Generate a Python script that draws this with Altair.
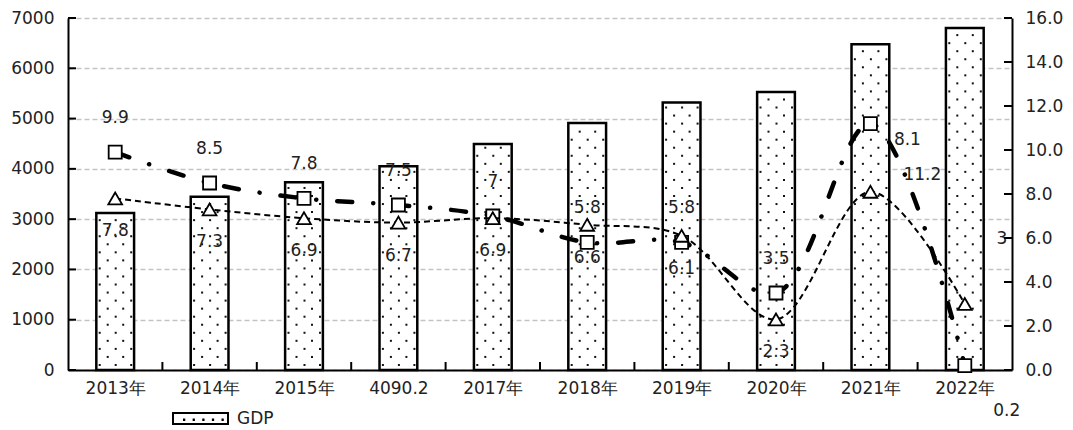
import altair as alt
import pandas as pd

# ---------------- data ----------------
categories = ["2013年", "2014年", "2015年", "4090.2", "2017年",
              "2018年", "2019年", "2020年", "2021年", "2022年"]
gdp = [3120, 3445, 3735, 4050, 4495, 4910, 5320, 5530, 6480, 6800]
square_series = [9.9, 8.5, 7.8, 7.5, 7.0, 5.8, 5.8, 3.5, 11.2, 0.2]
triangle_series = [7.8, 7.3, 6.9, 6.7, 6.9, 6.6, 6.1, 2.3, 8.1, 3.0]
left_ticks = [0, 1000, 2000, 3000, 4000, 5000, 6000, 7000]
right_ticks = [0, 2, 4, 6, 8, 10, 12, 14, 16]
legend_name = "GDP"


def fmt(v):
    return f"{v:g}"


n = len(categories)
df = pd.DataFrame({
    "year": categories,
    "pos": list(range(n)),
    "gdp": gdp,
    "sq": square_series,
    "tri": triangle_series,
    "sq_label": [fmt(v) for v in square_series],
    "tri_label": [fmt(v) for v in triangle_series],
})

# ---------------- styles ----------------
W, H = 944, 352
STEP = W / n            # pixels per category
HALF_BAR = 0.2          # half bar width, in category units
FONT = "DejaVu Sans"
FS = 17
TXT = "#222222"

cat_array = "[" + ",".join(f"'{c}'" for c in categories) + "]"
x_scale = alt.Scale(domain=[0, n], nice=False, zero=False, padding=0)
x_axis = alt.Axis(title=None, values=[i + 0.5 for i in range(n)],
                  labelExpr=f"{cat_array}[floor(datum.value)]",
                  labelAngle=0, ticks=False, labelPadding=10,
                  domainColor="black", domainWidth=2, grid=False,
                  labelFont=FONT, labelFontSize=FS, labelColor=TXT, labelFlush=False)


def X(field="xc:Q"):
    return alt.X(field, scale=x_scale, axis=x_axis)


yl_scale = alt.Scale(domain=[0, 7000], nice=False, zero=True, padding=0)
yl_axis = alt.Axis(title=None, values=left_ticks, format="d", ticks=False, labelPadding=14,
                   grid=True, gridDash=[5, 3], gridColor="#c4c4c4", gridWidth=1.3,
                   domainColor="black", domainWidth=2,
                   labelFont=FONT, labelFontSize=FS, labelColor=TXT)

yr_scale = alt.Scale(domain=[0, 16], nice=False, zero=True, padding=0)
yr_axis = alt.Axis(title=None, orient="right", values=right_ticks, format=".1f",
                   ticks=False, labelPadding=13, grid=False,
                   domainColor="black", domainWidth=2,
                   labelFont=FONT, labelFontSize=FS, labelColor=TXT)


def YL(field):
    return alt.Y(field, scale=yl_scale, axis=yl_axis)


def YR(field):
    return alt.Y(field, scale=yr_scale, axis=yr_axis)


base = alt.Chart(df).transform_calculate(xc="datum.pos + 0.5")

symbol_path = ("M-1,-0.2H1V0.2H-1Z"
               " M-0.6,0.04h0.01v0.01h-0.01Z M-0.25,0.04h0.01v0.01h-0.01Z"
               " M0.1,0.04h0.01v0.01h-0.01Z M0.45,0.04h0.01v0.01h-0.01Z"
               " M0.8,0.04h0.01v0.01h-0.01Z")

# ---------------- left (GDP) group ----------------
bars = base.transform_calculate(
    series=f"'{legend_name}'",
    x0=f"datum.xc - {HALF_BAR}",
    x1=f"datum.xc + {HALF_BAR}",
    base0="0",
).mark_rect(stroke="black", strokeWidth=2.5).encode(
    x=X("x0:Q"), x2="x1:Q",
    y=YL("gdp:Q"), y2="base0:Q",
    fill=alt.Fill("series:N", scale=alt.Scale(range=["white"]),
                  legend=alt.Legend(title=None, orient="none", legendX=104, legendY=372,
                                    padding=0, symbolType=symbol_path, symbolSize=3025,
                                    symbolStrokeColor="black", symbolStrokeWidth=2,
                                    symbolFillColor="white", labelOffset=8,
                                    labelFont=FONT, labelFontSize=FS, labelColor=TXT)),
)

# dotted texture inside the bars (offsets in px from the bar centre)
dots = base.transform_calculate(
    r="sequence(0, floor((datum.gdp - 150) / 160) + 1)"
).transform_flatten(["r"]).transform_calculate(
    c="datum.r % 2 == 0 ? [-15.5, 0.5, 16] : [-7.5, 8]",
    yy="100 + datum.r * 160",
).transform_flatten(["c"]).transform_calculate(
    xd=f"datum.xc + datum.c / {STEP}"
).mark_square(size=4, color="#111111", opacity=1).encode(
    x=X("xd:Q"),
    y=YL("yy:Q"),
)

left_tick_rules = alt.Chart(pd.DataFrame({"lt": left_ticks})).mark_rule(
    color="black", strokeWidth=2
).encode(y=YL("lt:Q"), x=alt.value(0), x2=alt.value(8))

# category-boundary ticks pointing into the plot
x_tick_rules = alt.Chart(df).transform_filter("datum.pos > 0").mark_rule(
    color="black", strokeWidth=2
).encode(x=X("pos:Q"), y=alt.value(H - 8), y2=alt.value(H))

left = alt.layer(bars, dots, left_tick_rules, x_tick_rules)

# ---------------- right (growth) group ----------------
main_years = categories[:8]

sq_labels = base.transform_filter(
    alt.FieldOneOfPredicate(field="year", oneOf=main_years)
).mark_text(dy=-34, font=FONT, fontSize=FS, color=TXT).encode(
    x=X(), y=YR("sq:Q"), text="sq_label:N")

tri_labels = base.transform_filter(
    alt.FieldOneOfPredicate(field="year", oneOf=main_years)
).mark_text(dy=33, font=FONT, fontSize=FS, color=TXT).encode(
    x=X(), y=YR("tri:Q"), text="tri_label:N")


def odd_label(year, field, label_field, dx, dy):
    return base.transform_filter(alt.datum.year == year).mark_text(
        dx=dx, dy=dy, font=FONT, fontSize=FS, color=TXT
    ).encode(x=X(), y=YR(field), text=f"{label_field}:N")


odd1 = odd_label("2021年", "tri:Q", "tri_label", 37, -52)
odd2 = odd_label("2021年", "sq:Q", "sq_label", 52, 51)
odd3 = odd_label("2022年", "tri:Q", "tri_label", 37, -65)
odd4 = odd_label("2022年", "sq:Q", "sq_label", 42, 45)

sq_line = base.mark_line(
    color="black", strokeWidth=4.5, strokeDash=[15, 21, 0.1, 21], strokeCap="round",
    interpolate="catmull-rom"
).encode(x=X(), y=YR("sq:Q"), order="pos:Q")

sq_pts = base.mark_point(
    shape="square", size=170, filled=True, fill="white", stroke="black",
    strokeWidth=1.8, opacity=1
).encode(x=X(), y=YR("sq:Q"))

tri_line = base.mark_line(
    color="black", strokeWidth=2, strokeDash=[6, 4], interpolate="catmull-rom"
).encode(x=X(), y=YR("tri:Q"), order="pos:Q")

tri_pts = base.mark_point(
    shape="triangle-up", size=190, filled=True, fill="white", stroke="black",
    strokeWidth=1.8, opacity=1
).encode(x=X(), y=YR("tri:Q"))

right_tick_rules = alt.Chart(pd.DataFrame({"rt": right_ticks})).mark_rule(
    color="black", strokeWidth=2
).encode(y=YR("rt:Q"), x=alt.value(W - 8), x2=alt.value(W))

right = alt.layer(sq_labels, tri_labels, odd1, odd2, odd3, odd4,
                  sq_line, sq_pts, tri_line, tri_pts, right_tick_rules)

chart = alt.layer(left, right).resolve_scale(y="independent").properties(
    width=W, height=H,
    autosize=alt.AutoSizeParams(type="none"),
    padding={"left": 60, "top": 10, "right": 53, "bottom": 60},
    background="white",
).configure_view(stroke=None)

chart.save("out.html", embed_options={"renderer": "svg", "actions": False})
